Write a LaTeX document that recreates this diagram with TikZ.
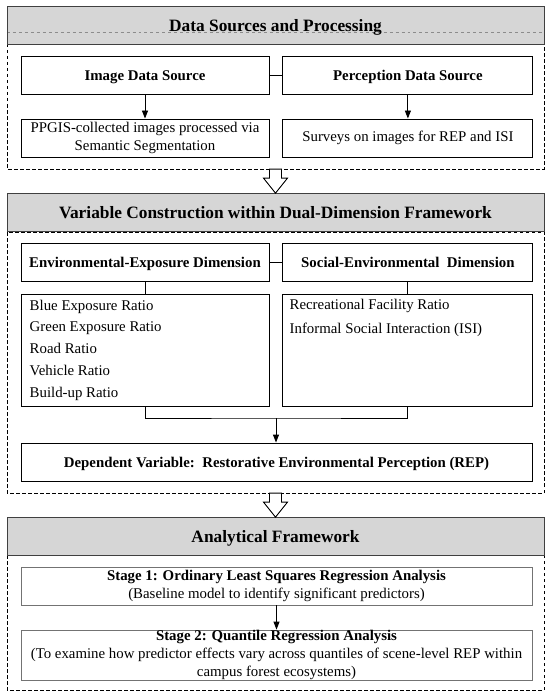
\documentclass[tikz,border=0pt]{standalone}
\usepackage{fontspec}
\setmainfont{Liberation Serif}
\usetikzlibrary{arrows.meta,positioning}

\begin{document}
\begin{tikzpicture}[x=1bp,y=-1bp,
    every node/.style={inner sep=0pt, font=\fontsize{14.9}{18}\selectfont},
    header/.style={draw=black!75, fill=black!16, line width=0.8bp,
        minimum width=537bp, minimum height=38bp, text depth=0pt,
        font=\fontsize{17.4}{20}\selectfont\bfseries},
    seamline/.style={path picture={\draw[black!45, dashed, line width=0.6bp]
        ([yshift=-6.5bp]path picture bounding box.west) --
        ([yshift=-6.5bp]path picture bounding box.east);}},
    box/.style={draw, line width=0.9bp, minimum height=38bp, align=center},
    titlebox/.style={box, text depth=0pt, font=\fontsize{14.9}{18}\selectfont\bfseries},
    stagebox/.style={draw=black!55, line width=0.8bp, minimum width=511bp,
        align=center},
    frame/.style={line width=0.9bp, dash pattern=on 3.5bp off 2.5bp},
    hollow/.style={draw, fill=white, line width=0.9bp, line join=miter},
    link/.style={line width=0.9bp},
    flow/.style={link, -{Triangle[length=8bp,width=6bp]}},
    listtext/.style={anchor=north west, align=left}]

    \useasboundingbox (0,0) rectangle (550,699);

    % dashed frames of the three stages
    \draw[frame] (7,44) rectangle (544,169);
    \draw[frame] (7,232) rectangle (544,493);
    \draw[frame] (7,555) rectangle (544,690);

    % data sources
    \node[header, seamline] (hdA) at (275.5,25.5) {Data Sources and Processing};
    \node[titlebox, minimum width=248bp] (imgsrc) at (145,75.5) {Image Data Source};
    \node[titlebox, minimum width=250bp, right=13bp of imgsrc] (percsrc) {Perception Data Source};
    \node[box, minimum width=248bp] (imgproc) at (145,138)
        {PPGIS-collected images processed via\\Semantic Segmentation};
    \node[box, minimum width=250bp, right=13bp of imgproc] (survey)
        {Surveys on images for REP and ISI};
    \draw[link] (imgsrc) -- (percsrc);
    \draw[flow] (imgsrc) -- (imgproc);
    \draw[flow] (percsrc) -- (survey);

    % variable construction
    \node[header] (hdB) at (275.5,212.5) {Variable Construction within Dual-Dimension Framework};
    \node[titlebox, minimum width=248bp] (envdim) at (145,262.5) {Environmental-Exposure Dimension};
    \node[titlebox, minimum width=250bp, right=13bp of envdim] (socdim) {Social-Environmental\ \ Dimension};
    \node[box, minimum width=248bp, minimum height=112bp] (envlist) at (145,350) {};
    \node[box, minimum width=250bp, minimum height=112bp, right=13bp of envlist] (soclist) {};
    \node[listtext, font=\fontsize{14.9}{22}\selectfont] (envitems)
        at ([xshift=9bp,yshift=-6bp]envlist.north west)
        {Blue Exposure Ratio\\Green Exposure Ratio\\Road Ratio\\Vehicle Ratio\\Build-up Ratio};
    \node[listtext, font=\fontsize{14.9}{25}\selectfont] (socitems)
        at ([xshift=7bp,yshift=-5bp]soclist.north west)
        {Recreational Facility Ratio\\Informal Social Interaction (ISI)};
    \draw[link] (envdim) -- (socdim);
    \draw[link] (envdim) -- (envlist);
    \draw[link] (socdim) -- (soclist);
    \coordinate (mrg) at (276,418);
    \draw[link] (envlist.south) |- (mrg) -| (soclist.south);
    \node[titlebox, minimum width=511bp] (dep) at (276.5,462)
        {Dependent Variable:\ \ Restorative Environmental Perception (REP)};
    \draw[flow] (mrg) -- (mrg |- dep.north);

    % analytical framework
    \node[header] (hdC) at (275.5,536.5) {Analytical Framework};
    \node[stagebox, minimum height=38bp] (stage1) at (276.5,586)
        {\textbf{Stage 1: Ordinary Least Squares Regression Analysis}\\
        (Baseline model to identify significant predictors)};
    \node[stagebox, minimum height=50bp] (stage2) at (276.5,655)
        {\textbf{Stage 2: Quantile Regression Analysis}\\
        (To examine how predictor effects vary across quantiles of scene-level REP within\\
        campus forest ecosystems)};
    \draw[flow] (stage1) -- (stage2);

    % hollow arrows between the stages
    \foreach \h in {hdB,hdC}
        \draw[hollow] (\h.north) -- ++(-12,-15) -- ++(6,0) -- ++(0,-9)
            -- ++(12,0) -- ++(0,9) -- ++(6,0) -- cycle;

\end{tikzpicture}
\end{document}
